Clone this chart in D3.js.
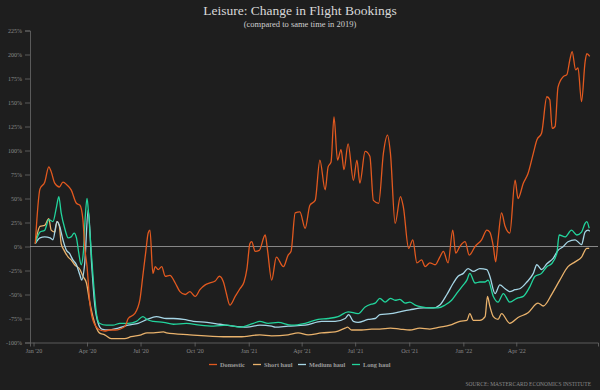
<!DOCTYPE html>
<html>
<head>
<meta charset="utf-8">
<script src="https://cdn.jsdelivr.net/npm/d3@7"></script>
<style>
  body { margin: 0; background: #1e1e1e; }
  text { font-family: "Liberation Serif", "DejaVu Serif", serif; }
</style>
</head>
<body>
<div id="chart"></div>
<script>
// data: [date, % change vs 2019]
var domestic = [["2020-01-04",3],["2020-01-12",60],["2020-01-20",67],["2020-01-27",83],["2020-01-31",78],["2020-02-06",66],["2020-02-14",62],["2020-02-20",67],["2020-02-27",64],["2020-03-05",59],["2020-03-14",45],["2020-03-20",43],["2020-03-25",28],["2020-03-28",0],["2020-04-01",-21],["2020-04-06",-60],["2020-04-13",-80],["2020-04-23",-87],["2020-05-01",-88],["2020-05-10",-87],["2020-05-19",-87],["2020-05-27",-86],["2020-06-05",-83],["2020-06-10",-75],["2020-06-21",-70],["2020-06-30",-55],["2020-07-05",-30],["2020-07-10",-5],["2020-07-14",14],["2020-07-17",17],["2020-07-22",-28],["2020-07-26",-21],["2020-07-31",-24],["2020-08-06",-21],["2020-08-12",-31],["2020-08-20",-30],["2020-08-29",-38],["2020-09-06",-47],["2020-09-15",-50],["2020-09-23",-47],["2020-10-02",-52],["2020-10-10",-45],["2020-10-19",-40],["2020-10-27",-38],["2020-11-05",-36],["2020-11-12",-31],["2020-11-19",-37],["2020-11-24",-49],["2020-11-30",-61],["2020-12-09",-52],["2020-12-17",-44],["2020-12-24",-37],["2020-12-29",-23],["2021-01-03",3],["2021-01-06",5],["2021-01-12",-5],["2021-01-19",-4],["2021-01-29",12],["2021-02-02",-4],["2021-02-09",-35],["2021-02-17",-11],["2021-03-01",-21],["2021-03-09",-9],["2021-03-14",-5],["2021-03-21",35],["2021-03-29",36],["2021-04-07",19],["2021-04-15",43],["2021-04-24",48],["2021-05-02",90],["2021-05-11",59],["2021-05-16",83],["2021-05-21",88],["2021-05-26",135],["2021-06-01",90],["2021-06-07",101],["2021-06-12",80],["2021-06-19",107],["2021-06-28",69],["2021-07-04",90],["2021-07-09",66],["2021-07-18",99],["2021-07-26",94],["2021-08-01",48],["2021-08-10",45],["2021-08-18",97],["2021-08-25",116],["2021-08-30",97],["2021-09-07",24],["2021-09-16",52],["2021-09-21",41],["2021-09-30",-2],["2021-10-07",7],["2021-10-14",-17],["2021-10-22",-14],["2021-10-28",-21],["2021-11-05",-17],["2021-11-14",-19],["2021-11-22",-11],["2021-11-28",-5],["2021-12-06",-17],["2021-12-14",17],["2021-12-19",-7],["2021-12-26",0],["2022-01-04",5],["2022-01-11",-9],["2022-01-21",0],["2022-02-01",7],["2022-02-10",17],["2022-02-15",15],["2022-02-21",0],["2022-02-25",-16],["2022-03-01",7],["2022-03-07",35],["2022-03-13",21],["2022-03-21",14],["2022-03-30",69],["2022-04-04",50],["2022-04-13",66],["2022-04-21",76],["2022-04-30",97],["2022-05-06",111],["2022-05-14",118],["2022-05-23",156],["2022-05-28",153],["2022-06-01",123],["2022-06-06",125],["2022-06-11",166],["2022-06-20",177],["2022-06-26",179],["2022-07-01",194],["2022-07-05",203],["2022-07-11",184],["2022-07-15",186],["2022-07-21",151],["2022-07-27",192],["2022-07-30",201],["2022-08-04",198]];

var shortHaul = [["2020-01-04",3],["2020-01-12",21],["2020-01-20",22],["2020-01-27",29],["2020-01-31",17],["2020-02-06",15],["2020-02-10",26],["2020-02-14",21],["2020-02-17",3],["2020-02-22",-4],["2020-02-29",-11],["2020-03-05",-14],["2020-03-11",-19],["2020-03-20",-24],["2020-03-25",-31],["2020-03-31",-38],["2020-04-05",-56],["2020-04-11",-73],["2020-04-17",-85],["2020-04-22",-90],["2020-05-01",-92],["2020-05-12",-96],["2020-05-24",-96],["2020-06-04",-96],["2020-06-15",-94],["2020-07-02",-92],["2020-07-12",-90],["2020-07-23",-90],["2020-08-09",-89],["2020-08-14",-90],["2020-09-23",-92],["2020-11-19",-94],["2020-12-17",-94],["2021-01-20",-92],["2021-02-09",-93],["2021-03-09",-92],["2021-03-26",-90],["2021-04-12",-92],["2021-05-05",-90],["2021-05-28",-89],["2021-06-14",-85],["2021-06-18",-84],["2021-06-25",-87],["2021-07-12",-87],["2021-07-29",-86],["2021-08-12",-86],["2021-08-30",-85],["2021-09-15",-86],["2021-10-02",-87],["2021-10-19",-85],["2021-11-05",-86],["2021-11-22",-84],["2021-12-09",-82],["2021-12-26",-78],["2022-01-07",-77],["2022-01-12",-70],["2022-01-18",-77],["2022-01-29",-77],["2022-02-07",-73],["2022-02-11",-52],["2022-02-15",-62],["2022-02-21",-73],["2022-03-01",-76],["2022-03-07",-70],["2022-03-21",-80],["2022-04-04",-74],["2022-04-21",-69],["2022-05-08",-59],["2022-05-17",-62],["2022-06-01",-49],["2022-06-14",-35],["2022-06-28",-21],["2022-07-10",-16],["2022-07-21",-11],["2022-07-30",-2],["2022-08-03",-2]];

var mediumHaul = [["2020-01-04",3],["2020-01-12",9],["2020-01-20",10],["2020-01-29",9],["2020-02-03",7],["2020-02-10",26],["2020-02-14",22],["2020-02-20",7],["2020-02-26",-4],["2020-03-02",-7],["2020-03-08",-14],["2020-03-14",-19],["2020-03-20",-30],["2020-03-23",-35],["2020-03-28",-18],["2020-04-03",38],["2020-04-09",-20],["2020-04-14",-60],["2020-04-20",-80],["2020-04-26",-86],["2020-05-07",-87],["2020-05-24",-85],["2020-06-10",-82],["2020-06-27",-80],["2020-07-12",-76],["2020-07-28",-73],["2020-08-14",-75],["2020-08-26",-75],["2020-09-12",-76],["2020-09-29",-78],["2020-10-22",-79],["2020-11-13",-81],["2020-12-06",-83],["2020-12-29",-84],["2021-01-20",-82],["2021-02-09",-83],["2021-02-15",-84],["2021-03-09",-83],["2021-04-07",-82],["2021-05-05",-78],["2021-05-28",-78],["2021-06-14",-75],["2021-06-20",-71],["2021-06-28",-78],["2021-07-06",-79],["2021-07-23",-76],["2021-08-04",-75],["2021-08-12",-71],["2021-08-30",-70],["2021-09-15",-68],["2021-10-02",-66],["2021-10-25",-64],["2021-11-11",-64],["2021-11-22",-61],["2021-12-04",-50],["2021-12-15",-38],["2021-12-23",-31],["2022-01-01",-28],["2022-01-09",-23],["2022-01-18",-26],["2022-01-29",-23],["2022-02-10",-24],["2022-02-15",-31],["2022-02-24",-49],["2022-03-04",-40],["2022-03-13",-44],["2022-03-21",-47],["2022-03-30",-45],["2022-04-07",-44],["2022-04-19",-37],["2022-04-30",-28],["2022-05-06",-19],["2022-05-14",-24],["2022-05-23",-18],["2022-06-03",-12],["2022-06-11",-4],["2022-06-20",0],["2022-06-28",5],["2022-07-10",7],["2022-07-21",2],["2022-07-27",15],["2022-08-01",17],["2022-08-04",16]];

var longHaul = [["2020-01-04",3],["2020-01-12",15],["2020-01-20",17],["2020-01-27",28],["2020-02-03",26],["2020-02-09",41],["2020-02-13",52],["2020-02-17",35],["2020-02-23",19],["2020-02-29",9],["2020-03-05",10],["2020-03-10",14],["2020-03-14",9],["2020-03-18",-7],["2020-03-22",-19],["2020-03-26",-4],["2020-03-29",31],["2020-04-01",50],["2020-04-04",31],["2020-04-08",-4],["2020-04-13",-45],["2020-04-17",-70],["2020-04-22",-80],["2020-05-04",-82],["2020-05-15",-82],["2020-05-27",-80],["2020-06-10",-80],["2020-06-24",-78],["2020-07-05",-73],["2020-07-12",-76],["2020-07-23",-78],["2020-08-09",-79],["2020-08-26",-81],["2020-09-17",-80],["2020-10-10",-82],["2020-11-02",-83],["2020-11-24",-82],["2020-12-17",-84],["2021-01-09",-80],["2021-01-20",-78],["2021-02-03",-80],["2021-02-20",-79],["2021-03-15",-82],["2021-04-07",-80],["2021-04-29",-76],["2021-05-16",-75],["2021-06-02",-73],["2021-06-19",-68],["2021-07-06",-70],["2021-07-18",-63],["2021-07-29",-60],["2021-08-04",-59],["2021-08-12",-54],["2021-08-21",-58],["2021-08-30",-54],["2021-09-07",-56],["2021-09-15",-55],["2021-09-24",-59],["2021-10-02",-58],["2021-10-11",-61],["2021-10-22",-63],["2021-11-05",-64],["2021-11-19",-64],["2021-12-01",-61],["2021-12-12",-56],["2021-12-23",-47],["2022-01-01",-40],["2022-01-07",-35],["2022-01-12",-28],["2022-01-21",-38],["2022-01-29",-37],["2022-02-07",-37],["2022-02-12",-35],["2022-02-21",-52],["2022-03-01",-58],["2022-03-10",-49],["2022-03-21",-58],["2022-04-02",-54],["2022-04-13",-52],["2022-04-24",-42],["2022-05-03",-31],["2022-05-14",-28],["2022-05-23",-21],["2022-05-31",-18],["2022-06-09",-7],["2022-06-13",12],["2022-06-23",10],["2022-07-04",17],["2022-07-13",12],["2022-07-21",15],["2022-07-27",24],["2022-07-30",26],["2022-08-03",19]];

var seriesNames = ["Domestic", "Short haul", "Medium haul", "Long haul"];
var seriesColors = ["#e2591f", "#e9b26c", "#a6d6e6", "#22d49c"];
var tickDates = ["2020-01-01","2020-04-01","2020-07-01","2020-10-01","2021-01-01","2021-04-01","2021-07-01","2021-10-01","2022-01-01","2022-04-01"];
var yTicks = [-100,-75,-50,-25,0,25,50,75,100,125,150,175,200,225];

var svgWidth = 600;
var svgHeight = 390;
var margin = { top: 30.5, right: 2, bottom: 47.5, left: 30 };
var width = svgWidth - margin.left - margin.right;
var height = svgHeight - margin.top - margin.bottom;

var parseDate = d3.timeParse("%Y-%m-%d");
var allSeries = [domestic, shortHaul, mediumHaul, longHaul].map(function(s) {
  return s.map(function(d) { return { date: parseDate(d[0]), value: d[1] }; });
});

var svg = d3.select("#chart")
  .append("svg")
  .attr("width", svgWidth)
  .attr("height", svgHeight);

svg.append("rect").attr("width", svgWidth).attr("height", svgHeight).attr("fill", "#1e1e1e");

var chartGroup = svg.append("g")
  .attr("transform", `translate(${margin.left}, ${margin.top})`);

var xTimeScale = d3.scaleTime()
  .domain([parseDate("2019-12-26"), parseDate("2022-08-18")])
  .range([0, width]);

var yLinearScale = d3.scaleLinear()
  .domain([-100, 225])
  .range([height, 0]);

// axes
var bottomAxis = d3.axisBottom(xTimeScale)
  .tickValues(tickDates.map(parseDate))
  .tickFormat(d3.timeFormat("%b '%y"))
  .tickSize(4)
  .tickPadding(2);

var leftAxis = d3.axisLeft(yLinearScale)
  .tickValues(yTicks)
  .tickFormat(function(d) { return d + "%"; })
  .tickSize(5)
  .tickPadding(3);

var xAxisG = chartGroup.append("g")
  .attr("transform", `translate(0, ${height})`)
  .call(bottomAxis);

var yAxisG = chartGroup.append("g")
  .call(leftAxis);

[xAxisG, yAxisG].forEach(function(g) {
  g.selectAll("path").attr("stroke", "#6a6a6a").attr("stroke-width", 0.8);
  g.selectAll("line").attr("stroke", "#6a6a6a").attr("stroke-width", 0.8);
  g.selectAll("text").attr("fill", "#8a8a8a").style("font-size", "6px")
    .style("font-family", "'Liberation Serif', serif");
});

// zero line
chartGroup.append("line")
  .attr("x1", 0)
  .attr("x2", width)
  .attr("y1", yLinearScale(0))
  .attr("y2", yLinearScale(0))
  .attr("stroke", "#b5b5b5")
  .attr("stroke-width", 0.7);

var line = d3.line()
  .x(d => xTimeScale(d.date))
  .y(d => yLinearScale(d.value))
  .curve(d3.curveMonotoneX);

// draw domestic last so it sits on top like the reference
var order = [1, 2, 3, 0];
order.forEach(function(i) {
  chartGroup.append("path")
    .datum(allSeries[i])
    .attr("fill", "none")
    .attr("stroke", seriesColors[i])
    .attr("stroke-width", 1.3)
    .attr("stroke-linejoin", "round")
    .attr("d", line);
});

// titles
svg.append("text")
  .attr("x", 300)
  .attr("y", 15)
  .attr("text-anchor", "middle")
  .attr("fill", "#d8d8d8")
  .style("font-size", "13.5px")
  .text("Leisure: Change in Flight Bookings");

svg.append("text")
  .attr("x", 300)
  .attr("y", 27)
  .attr("text-anchor", "middle")
  .attr("fill", "#cfcfcf")
  .style("font-size", "8.5px")
  .text("(compared to same time in 2019)");

// legend
var legendX = [209, 253, 298, 352];
var legend = svg.append("g");
seriesNames.forEach(function(name, i) {
  legend.append("line")
    .attr("x1", legendX[i])
    .attr("x2", legendX[i] + 8)
    .attr("y1", 364.5)
    .attr("y2", 364.5)
    .attr("stroke", seriesColors[i])
    .attr("stroke-width", 1.3);
  legend.append("text")
    .attr("x", legendX[i] + 11)
    .attr("y", 366.5)
    .attr("fill", "#9a9a9a")
    .style("font-size", "6.3px")
    .style("font-weight", "bold")
    .text(name);
});

svg.append("text")
  .attr("x", 591)
  .attr("y", 386)
  .attr("text-anchor", "end")
  .attr("fill", "#8a8a8a")
  .style("font-size", "5.5px")
  .text("SOURCE: MASTERCARD ECONOMICS INSTITUTE");
</script>
</body>
</html>
